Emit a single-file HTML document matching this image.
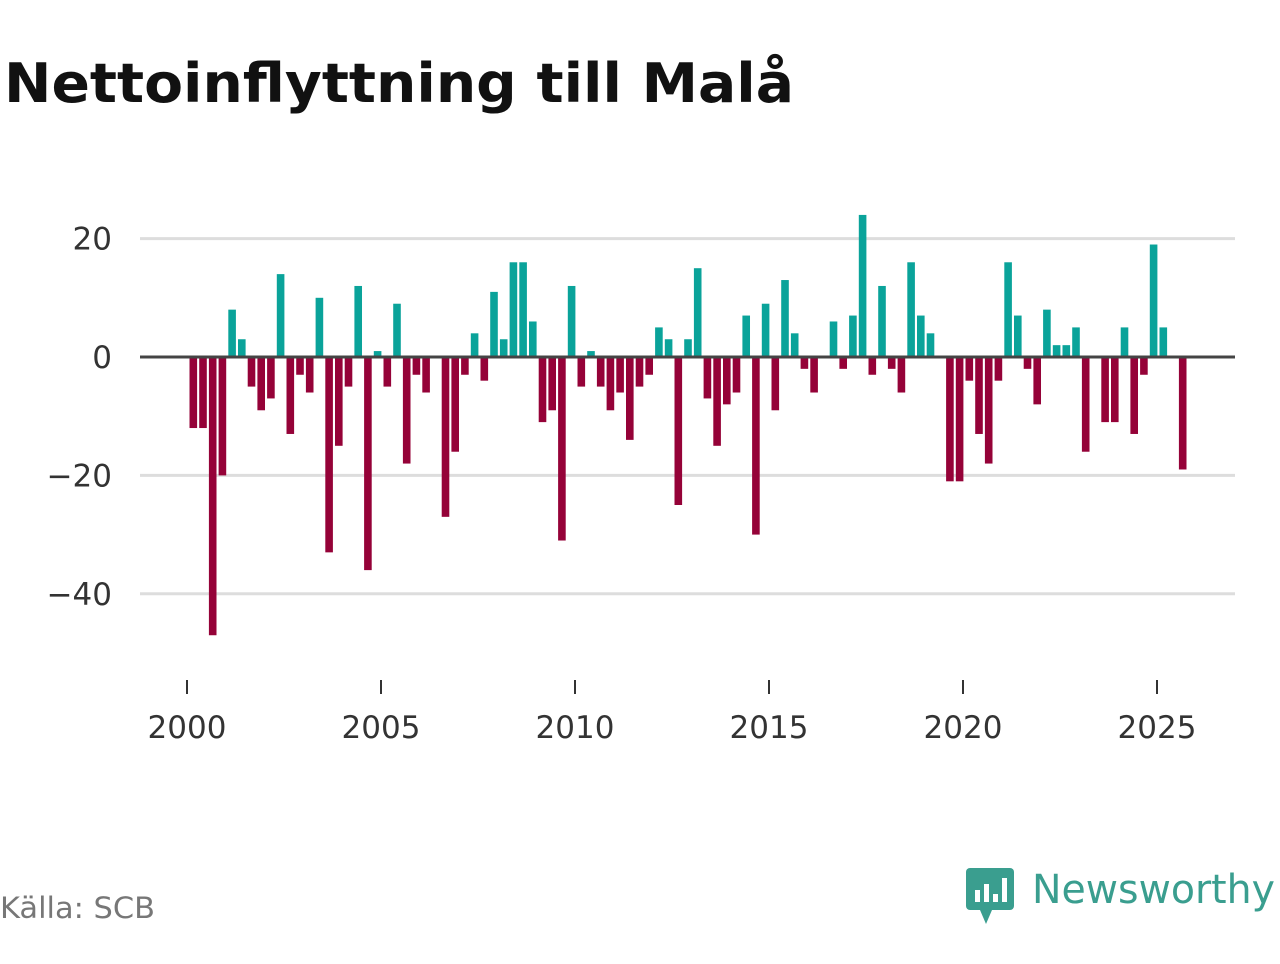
<!DOCTYPE html>
<html><head><meta charset="utf-8"><style>
body{margin:0;width:1280px;height:960px;background:#fff;font-family:"DejaVu Sans","Liberation Sans",sans-serif;overflow:hidden}
</style></head><body>
<svg width="1280" height="960">
<text x="4" y="102" font-size="54" font-weight="bold" fill="#111" textLength="790" lengthAdjust="spacingAndGlyphs">Nettoinflyttning till Malå</text>
<g id="grid"></g><g id="bars"></g><g id="xaxis"></g>
<text x="0" y="918" font-size="29" fill="#777" textLength="155" lengthAdjust="spacingAndGlyphs">Källa: SCB</text>
<g>
<rect x="966" y="868" width="48" height="42" rx="4" fill="#3a9e8f"/>
<polygon points="980,910 992,910 986,924" fill="#3a9e8f"/>
<rect x="975" y="890" width="5" height="12" fill="#fff"/><rect x="984" y="884" width="5" height="18" fill="#fff"/><rect x="993" y="894" width="5" height="8" fill="#fff"/><rect x="1002" y="878" width="5" height="24" fill="#fff"/>
<text x="1032" y="903" font-size="40" fill="#3a9e8f" textLength="243" lengthAdjust="spacingAndGlyphs">Newsworthy</text>
</g>
</svg>
<script>
const startYear=2000;
const values=[-12,-12,-47,-20, 8,3,-5,-9, -7,14,-13,-3, -6,10,-33,-15, -5,12,-36,1, -5,9,-18,-3, -6,0,-27,-16, -3,4,-4,11, 3,16,16,6, -11,-9,-31,12, -5,1,-5,-9, -6,-14,-5,-3, 5,3,-25,3, 15,-7,-15,-8, -6,7,-30,9, -9,13,4,-2, -6,0,6,-2, 7,24,-3,12, -2,-6,16,7, 4,0,-21,-21, -4,-13,-18,-4, 16,7,-2,-8, 8,2,2,5, -16,0,-11,-11, 5,-13,-3,19, 5,0,-19];
const yTicks=[20,0,-20,-40];
const yTickLabels=["20","0","\u221220","\u221240"];
const xTicks=[2000,2005,2010,2015,2020,2025];
const NS="http://www.w3.org/2000/svg";
const x=yr=>187+(yr-2000)*38.8;
const y=v=>357-v*5.92;
function mk(t,a,p){const e=document.createElementNS(NS,t);for(const k in a)e.setAttribute(k,a[k]);p.appendChild(e);return e;}
const grid=document.getElementById('grid'),bars=document.getElementById('bars'),xa=document.getElementById('xaxis');
yTicks.forEach((v,i)=>{
 if(v!==0){const l=mk('line',{x1:140,x2:1235,y1:y(v),y2:y(v),stroke:'#ddd','stroke-width':3},grid);
 
 }
 const t=mk('text',{x:112,y:y(v)+11,'font-size':31,fill:'#333','text-anchor':'end'},grid);t.textContent=yTickLabels[i];
 
 
});
values.forEach((v,i)=>{
 if(v===0)return;
 const cx=x(startYear+(i+0.65)/4);
 const r=mk('rect',{x:cx-3.8,width:7.6,y:Math.min(y(v),y(0)),height:Math.abs(y(v)-y(0)),fill:v>0?'#0aa39a':'#950238'},bars);
 
 
});
const zl=mk('line',{x1:140,x2:1235,y1:y(0),y2:y(0),stroke:'#444','stroke-width':3},bars);


xTicks.forEach(yr=>{
 const l=mk('line',{x1:x(yr),x2:x(yr),y1:680,y2:694,stroke:'#333','stroke-width':2},xa);
 
 
 const t=mk('text',{x:x(yr),y:738,'font-size':31,fill:'#333','text-anchor':'middle'},xa);t.textContent=yr;
 
 
});
</script>
</body></html>
